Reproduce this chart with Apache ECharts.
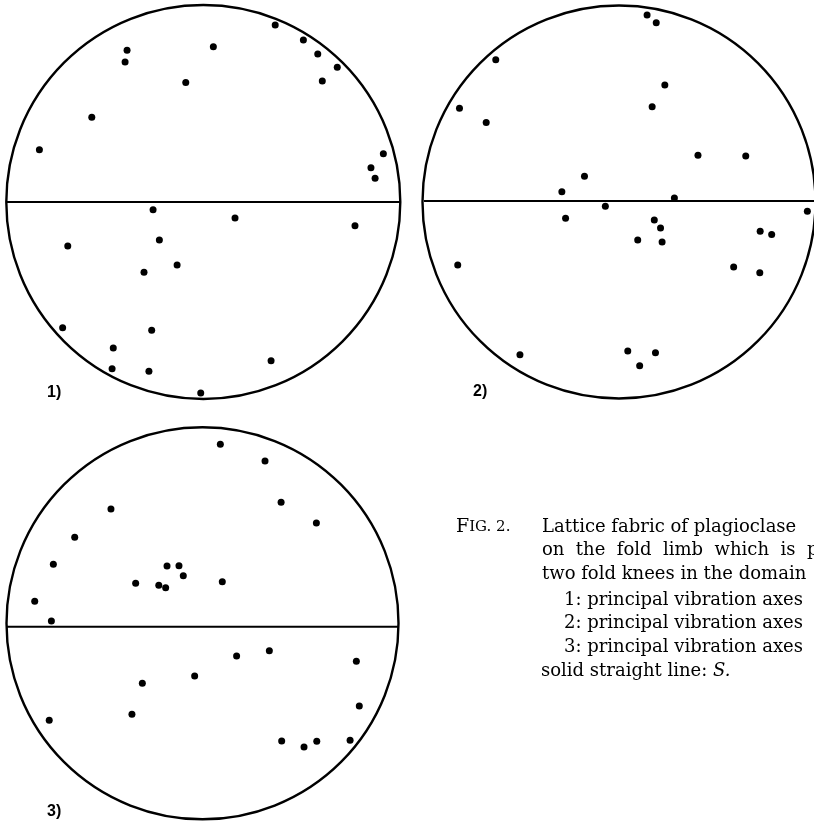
<!DOCTYPE html>
<html><head><meta charset="utf-8">
<script src="https://cdn.jsdelivr.net/npm/echarts/dist/echarts.min.js"></script>
<style>html,body{margin:0;padding:0;background:#fff;overflow:hidden}#c{width:814px;height:825px}</style>
</head><body><div id="c"></div>
<script>
// Stereonet points, coordinates normalised to a primitive circle of radius 100
const plot1X = [36.5, 50.8, 58.1, 68.0, 60.4, 5.1, -38.7, -39.7, -8.9, -56.6, -83.2, 91.4, 85.1, 87.2, -25.5, 16.1, 77.0, -68.8, -22.3, -13.3, -30.1, -71.4, -26.2, -45.7, 34.4, -46.3, -27.6, -1.3];
const plot1Y = [89.8, 82.2, 75.1, 68.4, 61.4, 78.8, 77.0, 71.1, 60.6, 43.0, 26.5, 24.5, 17.4, 12.0, -3.9, -8.1, -12.0, -22.3, -19.3, -32.0, -35.7, -63.8, -65.1, -74.1, -80.6, -84.6, -85.9, -97.0];
const plot2X = [14.4, 19.1, -63.2, 23.5, 17.0, -81.8, -68.1, 40.5, 65.0, -17.7, -29.3, 28.4, -7.0, 96.6, -27.4, 18.1, 21.3, 9.6, 22.1, 72.4, 78.3, -82.7, 58.8, 72.2, -50.8, 4.5, 18.7, 10.6];
const plot2Y = [95.2, 91.2, 72.4, 59.5, 48.5, 47.7, 40.4, 23.8, 23.4, 13.1, 5.2, 2.0, -2.2, -4.7, -8.3, -9.2, -13.2, -19.3, -20.4, -14.9, -16.6, -32.1, -33.1, -36.0, -77.7, -75.8, -76.7, -83.3];
const plot3X = [9.1, 31.9, 40.1, 58.1, -46.7, -65.2, -76.1, -18.1, -12.0, -9.8, -34.1, -22.3, -18.8, 10.1, -85.6, -77.1, 34.1, 17.4, 78.5, -4.0, -30.7, 80.0, -36.0, -78.2, 40.4, 51.8, 58.3, 75.3];
const plot3Y = [91.3, 82.8, 61.7, 51.2, 58.3, 43.9, 30.1, 29.2, 29.4, 24.3, 20.4, 19.4, 18.2, 21.2, 11.2, 1.2, -14.0, -16.7, -19.4, -26.9, -30.6, -42.2, -46.4, -49.5, -60.1, -63.1, -60.2, -59.7];
// Trace of S (solid straight line) in each diagram
const sLineY = [0, 0.5, -1.7];
const plotLabels = ['1)', '2)', '3)'];
const captionLines = [
  'Lattice fabric of plagioclase',
  'on  the  fold  limb  which  is  p',
  'two fold knees in the domain'
];
const itemLines = [
  '1: principal vibration axes',
  '2: principal vibration axes',
  '3: principal vibration axes'
];

const plotsX = [plot1X, plot2X, plot3X];
const plotsY = [plot1Y, plot2Y, plot3Y];
const grids = [
  {left: 6.3, top: 5, width: 394, height: 394},
  {left: 424, top: 5.5, width: 393, height: 393},
  {left: 6.5, top: 427.3, width: 392, height: 392}
];

const xAxis = [], yAxis = [], series = [];
grids.forEach((g, i) => {
  xAxis.push({type: 'value', gridIndex: i, min: -100, max: 100, show: false});
  yAxis.push({type: 'value', gridIndex: i, min: -100, max: 100, show: false});
  // primitive circle
  series.push({
    type: 'scatter', xAxisIndex: i, yAxisIndex: i, data: [[0, 0]], silent: true, clip: false,
    symbol: 'circle', symbolSize: g.width,
    itemStyle: {color: 'rgba(0,0,0,0)', borderColor: '#000', borderWidth: 2.4, opacity: 1}, z: 1
  });
  // S trace
  series.push({
    type: 'line', xAxisIndex: i, yAxisIndex: i, silent: true, clip: false,
    data: [[-100, sLineY[i]], [100, sLineY[i]]], symbol: 'none',
    lineStyle: {color: '#000', width: 2, opacity: 1}, z: 2
  });
  // points
  series.push({
    type: 'scatter', xAxisIndex: i, yAxisIndex: i, clip: false,
    data: plotsX[i].map((x, k) => [x, plotsY[i][k]]),
    symbol: 'circle', symbolSize: 7,
    itemStyle: {color: '#000', opacity: 1}, z: 3
  });
});

const serif = '"DejaVu Serif", "Liberation Serif", serif';
const graphic = [];
const labelPos = [[47, 393], [473, 392], [47, 812]];
plotLabels.forEach((t, i) => {
  graphic.push({type: 'text', left: labelPos[i][0], top: labelPos[i][1] - 8,
    style: {text: t, font: '900 16px "Liberation Sans", Arial, sans-serif', fill: '#000'}});
});
graphic.push({type: 'text', x: 456, y: 527,
  style: {text: '{a|F}{b|IG. 2.}', verticalAlign: 'middle', fill: '#000',
    rich: {a: {font: '19px ' + serif, fill: '#000'}, b: {font: '15px ' + serif, fill: '#000'}}}});
captionLines.forEach((t, i) => {
  graphic.push({type: 'text', x: 542, y: 527 + 23.5 * i,
    style: {text: t, font: '18px ' + serif, fill: '#000', verticalAlign: 'middle'}});
});
itemLines.forEach((t, i) => {
  graphic.push({type: 'text', x: 564, y: 600 + 23.5 * i,
    style: {text: t, font: '18px ' + serif, fill: '#000', verticalAlign: 'middle'}});
});
graphic.push({type: 'text', x: 541, y: 671,
  style: {text: 'solid straight line: {i|S.}', font: '18px ' + serif, fill: '#000', verticalAlign: 'middle',
    rich: {i: {font: 'italic 18px ' + serif, fill: '#000'}}}});

const chart = echarts.init(document.getElementById('c'));
chart.setOption({
  animation: false,
  backgroundColor: '#fff',
  grid: grids,
  xAxis, yAxis, series, graphic
});
</script></body></html>
